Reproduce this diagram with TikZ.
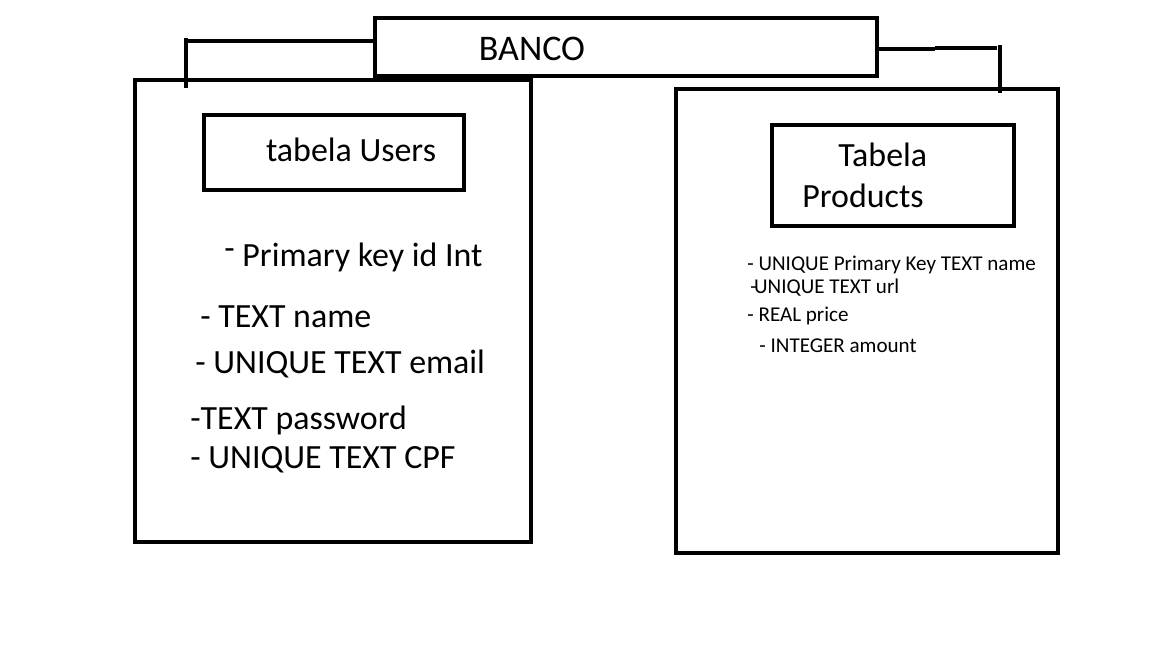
\documentclass[tikz,border=0pt]{standalone}
\usepackage{fontspec}
\setmainfont{Carlito}
\usetikzlibrary{positioning}
\tikzset{
    box/.style={draw=black,line width=2.3pt,inner sep=0pt},
    link/.style={black,line width=2.3pt},
    bigtxt/.style={font=\fontsize{19.3}{21}\selectfont,inner sep=0pt,anchor=base west},
    smalltxt/.style={font=\fontsize{12}{13}\selectfont,inner sep=0pt,anchor=base west}
}

\begin{document}
\begin{tikzpicture}[x=0.02cm,y=-0.02cm]
\useasboundingbox[fill=white] (0,0) rectangle (1152,648);
% main box
\node[box,minimum width=10.04cm,minimum height=1.16cm] (banco) at (626,47) {};
\node[bigtxt,anchor=center,font=\fontsize{20.5}{22}\selectfont] (bancotxt) at (532,49) {BANCO};
% tables
\node[box,minimum width=7.92cm,minimum height=9.24cm] (users) at (333,311) {};
\node[box,minimum width=7.64cm,minimum height=9.28cm] (products) at (867,321) {};
\node[box,minimum width=5.2cm,minimum height=1.5cm] (usershead) at (334,152.5) {};
\node[box,minimum width=4.84cm,minimum height=2.02cm] (prodhead) at (893,175.5) {};
\node[bigtxt,anchor=center] (userstxt) at (351,150) {tabela Users};
\node[bigtxt] (prodtxt1) at (838,167) {Tabela};
\node[bigtxt] (prodtxt2) at (802,208) {Products};
% links
\coordinate (lcorner) at (188,41);
\coordinate (ltop) at (186,38);
\coordinate (lbot) at (186,88);
\coordinate (rmid) at (935,49);
\coordinate (rend) at (997,48);
\coordinate (rtop) at (1000,45);
\coordinate (rbot) at (1000,93);
\draw[link] (banco.west |- lcorner)--(lcorner);
\draw[link] (ltop)--(lbot);
\draw[link] (banco.east |- rmid)--(rmid);
\draw[link] (rmid |- rend)--(rend);
\draw[link] (rtop)--(rbot);
% users fields
\node[bigtxt] (u1) at (224,267) {\raisebox{0.45ex}{-}\ Primary key id Int};
\node[bigtxt] (u2) at (200,328) {- TEXT name};
\node[bigtxt] (u3) at (195,373) {- UNIQUE TEXT email};
\node[bigtxt] (u4) at (190,429) {-TEXT password};
\node[bigtxt] (u5) at (190,468) {- UNIQUE TEXT CPF};
% products fields
\node[smalltxt] (p1) at (747,271) {- UNIQUE Primary Key TEXT name};
\node[smalltxt] (p2) at (750,294) {-\kern-1.5pt UNIQUE TEXT url};
\node[smalltxt] (p3) at (747,321) {- REAL price};
\node[smalltxt] (p4) at (759,353) {- INTEGER amount};
\end{tikzpicture}
\end{document}
